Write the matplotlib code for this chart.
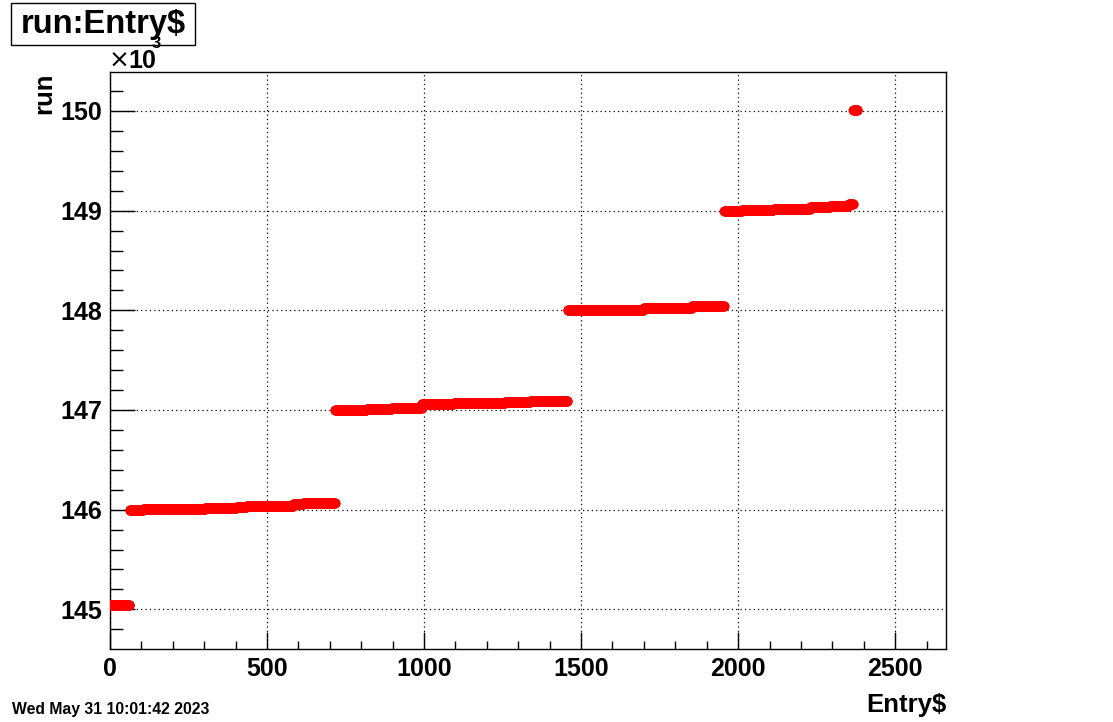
import numpy as np
import matplotlib.pyplot as plt
from matplotlib.ticker import MultipleLocator, FuncFormatter
from matplotlib.patches import Rectangle

plt.rcParams['font.family'] = ['Liberation Sans', 'DejaVu Sans']
plt.rcParams['font.weight'] = 'bold'

# first entry of every block of equal run number, and that run number
step_start = [0, 63, 106, 303, 403, 435, 584, 616,
              717, 817, 897, 993, 1094, 1258, 1338,
              1457, 1497, 1699, 1853,
              1956, 2012, 2113, 2230, 2293, 2352,
              2367]
step_run = [145040, 146000, 146007, 146020, 146030, 146040, 146055, 146067,
            147000, 147005, 147017, 147060, 147067, 147077, 147090,
            148000, 148005, 148020, 148040,
            149000, 149010, 149020, 149033, 149050, 149067,
            150005]
n_entries = 2381

# each entry takes the run of the block it sits in
entry = np.arange(n_entries)
run = np.array(step_run)[np.searchsorted(step_start, entry, side='right') - 1]

W, H = 1113, 722
fig = plt.figure(figsize=(W / 100, H / 100), dpi=100)
ax = fig.add_axes([110 / W, 1 - 649 / H, (946 - 110) / W, (649 - 72) / H])

ax.plot(entry, run, 'o', color='red', ms=7.2, mec='none', zorder=3)

ax.set_xlim(0, 2662)
ax.set_ylim(144602, 150391)

ax.xaxis.set_major_locator(MultipleLocator(500))
ax.xaxis.set_minor_locator(MultipleLocator(100))
ax.yaxis.set_major_locator(MultipleLocator(1000))
ax.yaxis.set_minor_locator(MultipleLocator(200))
ax.yaxis.set_major_formatter(FuncFormatter(lambda v, p: '%d' % round(v / 1000)))

ax.tick_params(axis='x', which='major', direction='in', length=12, width=1, pad=6, labelsize=18)
ax.tick_params(axis='x', which='minor', direction='in', length=6, width=1)
ax.tick_params(axis='y', which='major', direction='in', length=18, width=1, pad=5.5, labelsize=18)
ax.tick_params(axis='y', which='minor', direction='in', length=9, width=1)
for lab in ax.get_xticklabels() + ax.get_yticklabels():
    lab.set_fontweight('bold')

ax.grid(True, which='major', color='black', linestyle=(0, (1, 2.5)), linewidth=0.9)
ax.set_axisbelow(True)
for s in ax.spines.values():
    s.set_linewidth(1)

# title box in the top left corner
fig.patches.append(Rectangle((11 / W, 1 - 45 / H), 184 / W, 42 / H, transform=fig.transFigure,
                             fill=True, fc='white', ec='black', lw=1))
fig.text(103 / W, 1 - 25 / H, 'run:Entry$', ha='center', va='center', fontsize=23.5, fontweight='bold')

# exponent of the y axis
fig.text(109 / W, 1 - 68 / H, '\u00d7', ha='left', va='baseline', fontsize=18,
         fontweight='normal', family='DejaVu Sans')
fig.text(128 / W, 1 - 68 / H, '10', ha='left', va='baseline', fontsize=18, fontweight='bold')
fig.text(152 / W, 1 - 48 / H, '3', ha='left', va='baseline', fontsize=12, fontweight='bold')

fig.text(44 / W, 1 - 72 / H, 'run', rotation=90, ha='center', va='top', fontsize=18.5, fontweight='bold')
fig.text(946 / W, 1 - 712 / H, 'Entry$', ha='right', va='baseline', fontsize=18.5, fontweight='bold')
fig.text(12 / W, 1 - 714 / H, 'Wed May 31 10:01:42 2023', ha='left', va='baseline', fontsize=11.3, fontweight='bold')

fig.savefig('out.png', dpi=100)
